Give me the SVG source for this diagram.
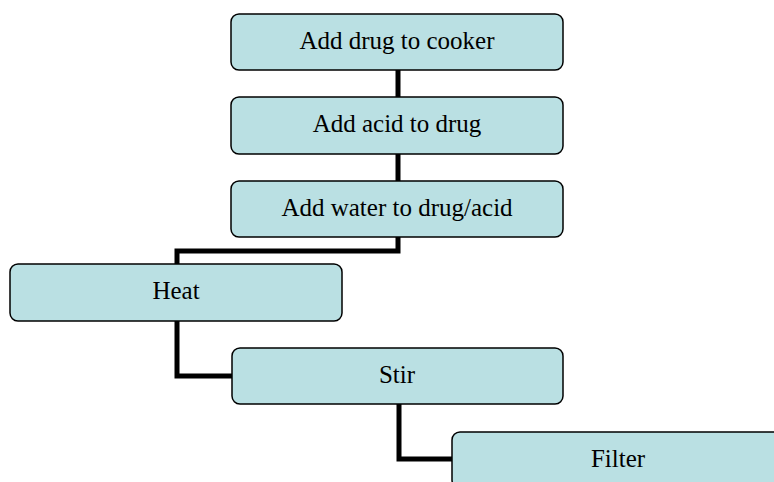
<svg xmlns="http://www.w3.org/2000/svg" width="774" height="482" viewBox="0 0 774 482">
<style>
.box{fill:#BAE0E3;stroke:#000;stroke-width:1.5}
.lbl{font-family:"Liberation Serif","Times New Roman",serif;font-size:25px;fill:#000;text-anchor:middle}
.con{fill:none;stroke:#000;stroke-width:5;stroke-linejoin:miter}
</style>
<rect width="774" height="482" fill="#fff"/>
<g id="connectors">
<path class="con" d="M398 70V97"/>
<path class="con" d="M398 154V181"/>
<path class="con" d="M398 237V251H177V264"/>
<path class="con" d="M177 321V376H232"/>
<path class="con" d="M399 404V459H452"/>
</g>
<g id="n1"><rect class="box" x="231" y="14" width="332" height="56" rx="8"/><text class="lbl" x="397" y="49">Add drug to cooker</text></g>
<g id="n2"><rect class="box" x="231" y="97" width="332" height="57" rx="8"/><text class="lbl" x="397" y="132">Add acid to drug</text></g>
<g id="n3"><rect class="box" x="231" y="181" width="332" height="56" rx="8"/><text class="lbl" x="397" y="216">Add water to drug/acid</text></g>
<g id="n4"><rect class="box" x="10" y="264" width="332" height="57" rx="8"/><text class="lbl" x="176" y="299">Heat</text></g>
<g id="n5"><rect class="box" x="232" y="348" width="331" height="56" rx="8"/><text class="lbl" x="397" y="383">Stir</text></g>
<g id="n6"><rect class="box" x="452" y="432" width="332" height="56" rx="8"/><text class="lbl" x="618" y="467">Filter</text></g>
</svg>
